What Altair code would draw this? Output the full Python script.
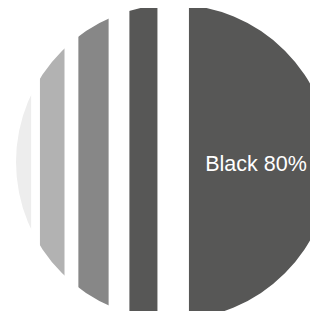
import altair as alt
import pandas as pd

# Stripes across the circle, in percent of the circle's diameter (left edge = 0, right edge = 100)
tones = ["Black 10%", "Black 30%", "Black 50%", "Black 80%", "Black 80%"]
starts = [0.0, 7.6, 19.8, 36.0, 54.9]
ends = [4.8, 15.4, 29.4, 44.9, 100.0]
labels = ["", "", "", "", "Black 80%"]

tone_domain = ["Black 10%", "Black 30%", "Black 50%", "Black 80%"]
tone_colors = ["#ededed", "#b2b2b2", "#878787", "#575756"]

df = pd.DataFrame({"tone": tones, "start": starts, "end": ends, "label": labels})

W, H = 302, 303
xs = alt.Scale(domain=[-2.54, 93.33], nice=False, zero=False)
ys = alt.Scale(domain=[2.70, 98.89], nice=False, zero=False)
R_PX = 157.5

base = alt.Chart(df)

stripes = base.mark_rect(strokeWidth=0).encode(
    x=alt.X("start:Q", scale=xs, axis=None),
    x2="end:Q",
    y=alt.Y(datum=0, type="quantitative", scale=ys, axis=None),
    y2=alt.Y2(datum=100),
    color=alt.Color("tone:N", scale=alt.Scale(domain=tone_domain, range=tone_colors), legend=None),
)

mask = alt.Chart(pd.DataFrame({"c": [50]})).mark_arc(
    theta=0, theta2=6.2832, radius=420, radius2=R_PX, color="white", strokeWidth=0
).encode(
    x=alt.X("c:Q", scale=xs, axis=None),
    y=alt.Y("c:Q", scale=ys, axis=None),
)

text = base.transform_filter(alt.datum.label != "").transform_calculate(
    mid="(datum.start + datum.end) / 2", cy="50"
).mark_text(
    color="white", fontSize=21.5, font="Liberation Sans", align="center", baseline="middle", dx=-4, dy=3
).encode(
    x=alt.X("mid:Q", scale=xs, axis=None),
    y=alt.Y("cy:Q", scale=ys, axis=None),
    text="label:N",
)

chart = alt.layer(stripes, mask, text).properties(
    width=W, height=H, padding=0, autosize="none"
).configure_view(stroke=None)

chart.save("out.html", embed_options={"renderer": "svg", "actions": False})
